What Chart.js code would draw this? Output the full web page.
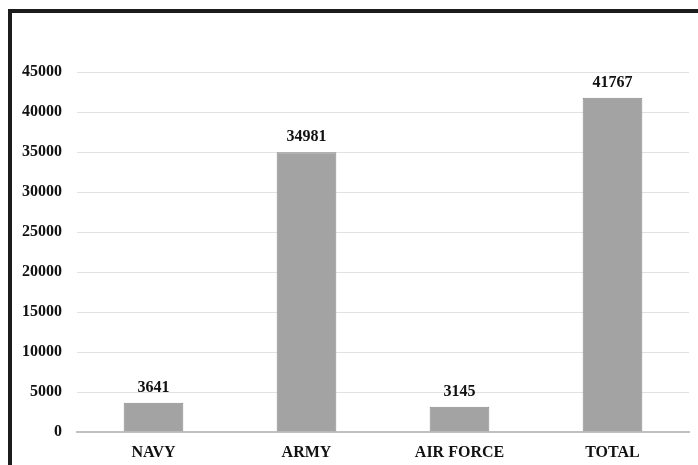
<!DOCTYPE html>
<html>
<head>
<meta charset="utf-8">
<script src="https://cdn.jsdelivr.net/npm/chart.js@4"></script>
<style>
  html, body { margin: 0; padding: 0; background: #fff; }
  #wrap { position: relative; width: 698px; height: 465px; overflow: hidden; }
  #chart { position: absolute; left: 0; top: 0; }
  #frame {
    position: absolute; left: 8px; top: 9px; width: 700px; height: 470px;
    border-top: 4px solid #1c1c1c; border-left: 4px solid #1c1c1c;
    pointer-events: none;
  }
</style>
</head>
<body>
<div id="wrap">
  <canvas id="chart" width="698" height="465"></canvas>
  <div id="frame"></div>
</div>
<script>
const categories = ['NAVY', 'ARMY', 'AIR FORCE', 'TOTAL'];
const personnel = [3641, 34981, 3145, 41767];
const yTicks = [0, 5000, 10000, 15000, 20000, 25000, 30000, 35000, 40000, 45000];

const serif = '"Liberation Serif", "Times New Roman", serif';

// Writes each bar's value just above it
const valueLabels = {
  id: 'valueLabels',
  afterDatasetsDraw(chart) {
    const ctx = chart.ctx;
    const meta = chart.getDatasetMeta(0);
    ctx.save();
    ctx.font = 'bold 16px ' + serif;
    ctx.fillStyle = '#111';
    ctx.textAlign = 'center';
    ctx.textBaseline = 'bottom';
    meta.data.forEach((bar, i) => {
      ctx.fillText(String(personnel[i]), bar.x, bar.y - 7);
    });
    ctx.restore();
  }
};

new Chart(document.getElementById('chart'), {
  type: 'bar',
  data: {
    labels: categories,
    datasets: [{
      data: personnel,
      backgroundColor: '#a3a3a3',
      borderColor: '#8a8a8a',
      borderWidth: 1,
      categoryPercentage: 1,
      barPercentage: 0.39
    }]
  },
  options: {
    responsive: false,
    animation: false,
    layout: { padding: { left: 0, right: 9, top: 72, bottom: 0 } },
    plugins: { legend: { display: false }, tooltip: { enabled: false } },
    scales: {
      x: {
        grid: { display: false, drawTicks: false },
        border: { color: '#c0c0c0', width: 2 },
        ticks: {
          color: '#111',
          font: { family: serif, size: 16, weight: 'bold' },
          padding: 11,
          maxRotation: 0
        },
        afterFit(scale) { scale.height = 33; }
      },
      y: {
        min: 0,
        max: 45000,
        afterBuildTicks(scale) { scale.ticks = yTicks.map(v => ({ value: v })); },
        grid: { color: '#e2e2e2', lineWidth: 1, drawTicks: false },
        border: { display: false },
        ticks: {
          color: '#111',
          font: { family: serif, size: 16, weight: 'bold' },
          padding: 15,
          callback: v => String(v)
        },
        afterFit(scale) { scale.width = 77; }
      }
    }
  },
  plugins: [valueLabels]
});
</script>
</body>
</html>
